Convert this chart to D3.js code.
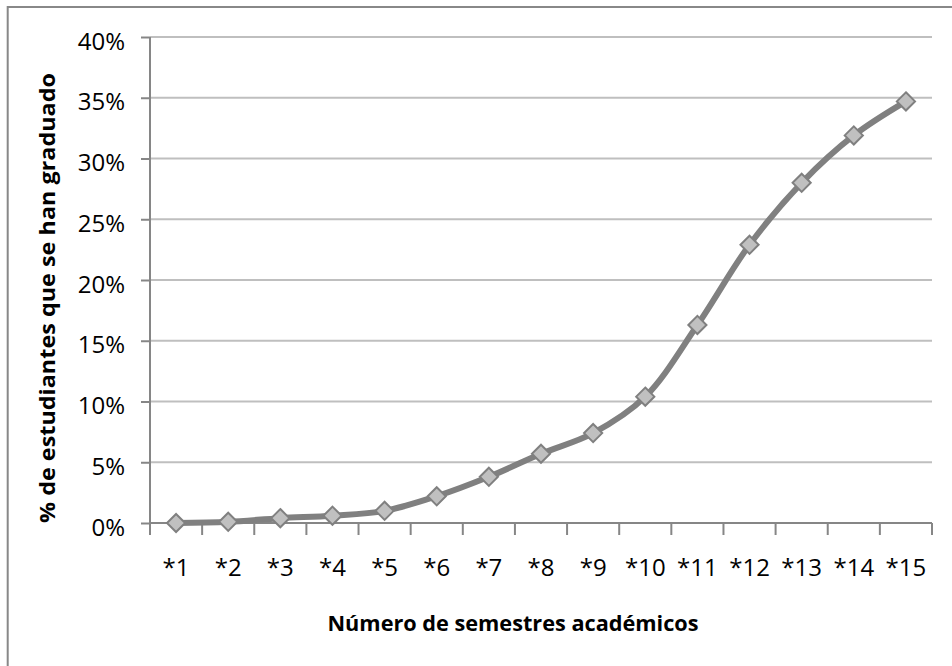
<!DOCTYPE html>
<html>
<head>
<meta charset="utf-8">
<script src="https://cdn.jsdelivr.net/npm/d3@7"></script>
<style>
  html, body { margin: 0; padding: 0; background: #fff; }
  svg { display: block; font-family: "Open Sans", sans-serif; }
</style>
</head>
<body>
<div id="main"></div>
<script>
// semestres y porcentaje acumulado de graduados
const semesters = ['*1', '*2', '*3', '*4', '*5', '*6', '*7', '*8', '*9', '*10', '*11', '*12', '*13', '*14', '*15'];
const graduated = [0.0, 0.1, 0.4, 0.6, 1.0, 2.2, 3.8, 5.7, 7.4, 10.4, 16.3, 22.9, 28.0, 31.9, 34.7];
const yTicks = [0, 5, 10, 15, 20, 25, 30, 35, 40];

const xTitle = 'Número de semestres académicos';
const yTitle = '% de estudiantes que se han graduado';

const w = 952;
const h = 666;
const padLeft = 150, padRight = 932, padTop = 37, padBottom = 523;

const svg = d3.select('#main')
    .append('svg')
    .attr('width', w)
    .attr('height', h);

// marco del grafico (solo se ve arriba e izquierda)
svg.append('rect')
    .attr('x', 7.7)
    .attr('y', 7)
    .attr('width', w + 20)
    .attr('height', h + 20)
    .attr('fill', 'none')
    .attr('stroke', '#888')
    .attr('stroke-width', 2);

const x = d3.scaleBand()
    .domain(semesters)
    .range([padLeft, padRight]);

const y = d3.scaleLinear()
    .domain([0, 40])
    .range([padBottom, padTop]);

// lineas de division
svg.append('g')
    .selectAll('line')
    .data(yTicks.filter(d => d > 0))
    .enter()
    .append('line')
    .attr('x1', padLeft)
    .attr('x2', padRight)
    .attr('y1', d => y(d))
    .attr('y2', d => y(d))
    .attr('stroke', '#bfbfbf')
    .attr('stroke-width', 2);

// eje y
const yAxis = svg.append('g')
    .attr('transform', `translate(${padLeft},0)`)
    .call(d3.axisLeft(y).tickValues(yTicks).tickSize(9).tickPadding(16).tickFormat(d => d + '%'));

// eje x
const xAxis = svg.append('g')
    .attr('transform', `translate(0,${padBottom})`)
    .call(d3.axisBottom(x).tickSize(0).tickPadding(0));

xAxis.selectAll('.tick text')
    .attr('y', 53)
    .attr('dy', 0);

// marcas entre categorias
xAxis.append('g')
    .selectAll('line')
    .data(semesters.map(d => x(d)).concat([padRight]))
    .enter()
    .append('line')
    .attr('x1', d => d)
    .attr('x2', d => d)
    .attr('y1', 0)
    .attr('y2', 12)
    .attr('stroke', '#868686')
    .attr('stroke-width', 2);

[yAxis, xAxis].forEach(a => {
    a.select('.domain').attr('stroke', '#868686').attr('stroke-width', 2);
    a.selectAll('.tick line').attr('stroke', '#868686').attr('stroke-width', 2);
    a.selectAll('.tick text')
        .attr('fill', '#000')
        .style('font-size', '24px')
        .style('font-family', '"Open Sans", sans-serif');
});
xAxis.select('.domain').attr('d', `M${padLeft},0H${padRight}`);
yAxis.select('.domain').attr('d', `M0,${padBottom}V${padTop}`);
yAxis.selectAll('.tick text').attr('dy', '0.5em');

// serie
const line = d3.line()
    .x((d, i) => x(semesters[i]) + x.bandwidth() / 2)
    .y(d => y(d))
    .curve(d3.curveCatmullRom.alpha(0.5));

svg.append('path')
    .datum(graduated)
    .attr('d', line)
    .attr('fill', 'none')
    .attr('stroke', '#808080')
    .attr('stroke-width', 6)
    .attr('stroke-linejoin', 'round');

svg.append('g')
    .selectAll('path')
    .data(graduated)
    .enter()
    .append('path')
    .attr('d', d3.symbol().type(d3.symbolDiamond2).size(210))
    .attr('transform', (d, i) => `translate(${x(semesters[i]) + x.bandwidth() / 2},${y(d)})`)
    .attr('fill', '#c0c0c0')
    .attr('stroke', '#808080')
    .attr('stroke-width', 2);

// titulos
svg.append('text')
    .attr('x', 513)
    .attr('y', 631)
    .attr('text-anchor', 'middle')
    .attr('textLength', 371)
    .attr('lengthAdjust', 'spacingAndGlyphs')
    .style('font-size', '20.5px')
    .style('font-weight', 'bold')
    .text(xTitle);

svg.append('text')
    .attr('transform', 'translate(55,298) rotate(-90)')
    .attr('text-anchor', 'middle')
    .attr('textLength', 450)
    .attr('lengthAdjust', 'spacingAndGlyphs')
    .style('font-size', '20.5px')
    .style('font-weight', 'bold')
    .text(yTitle);
</script>
</body>
</html>
